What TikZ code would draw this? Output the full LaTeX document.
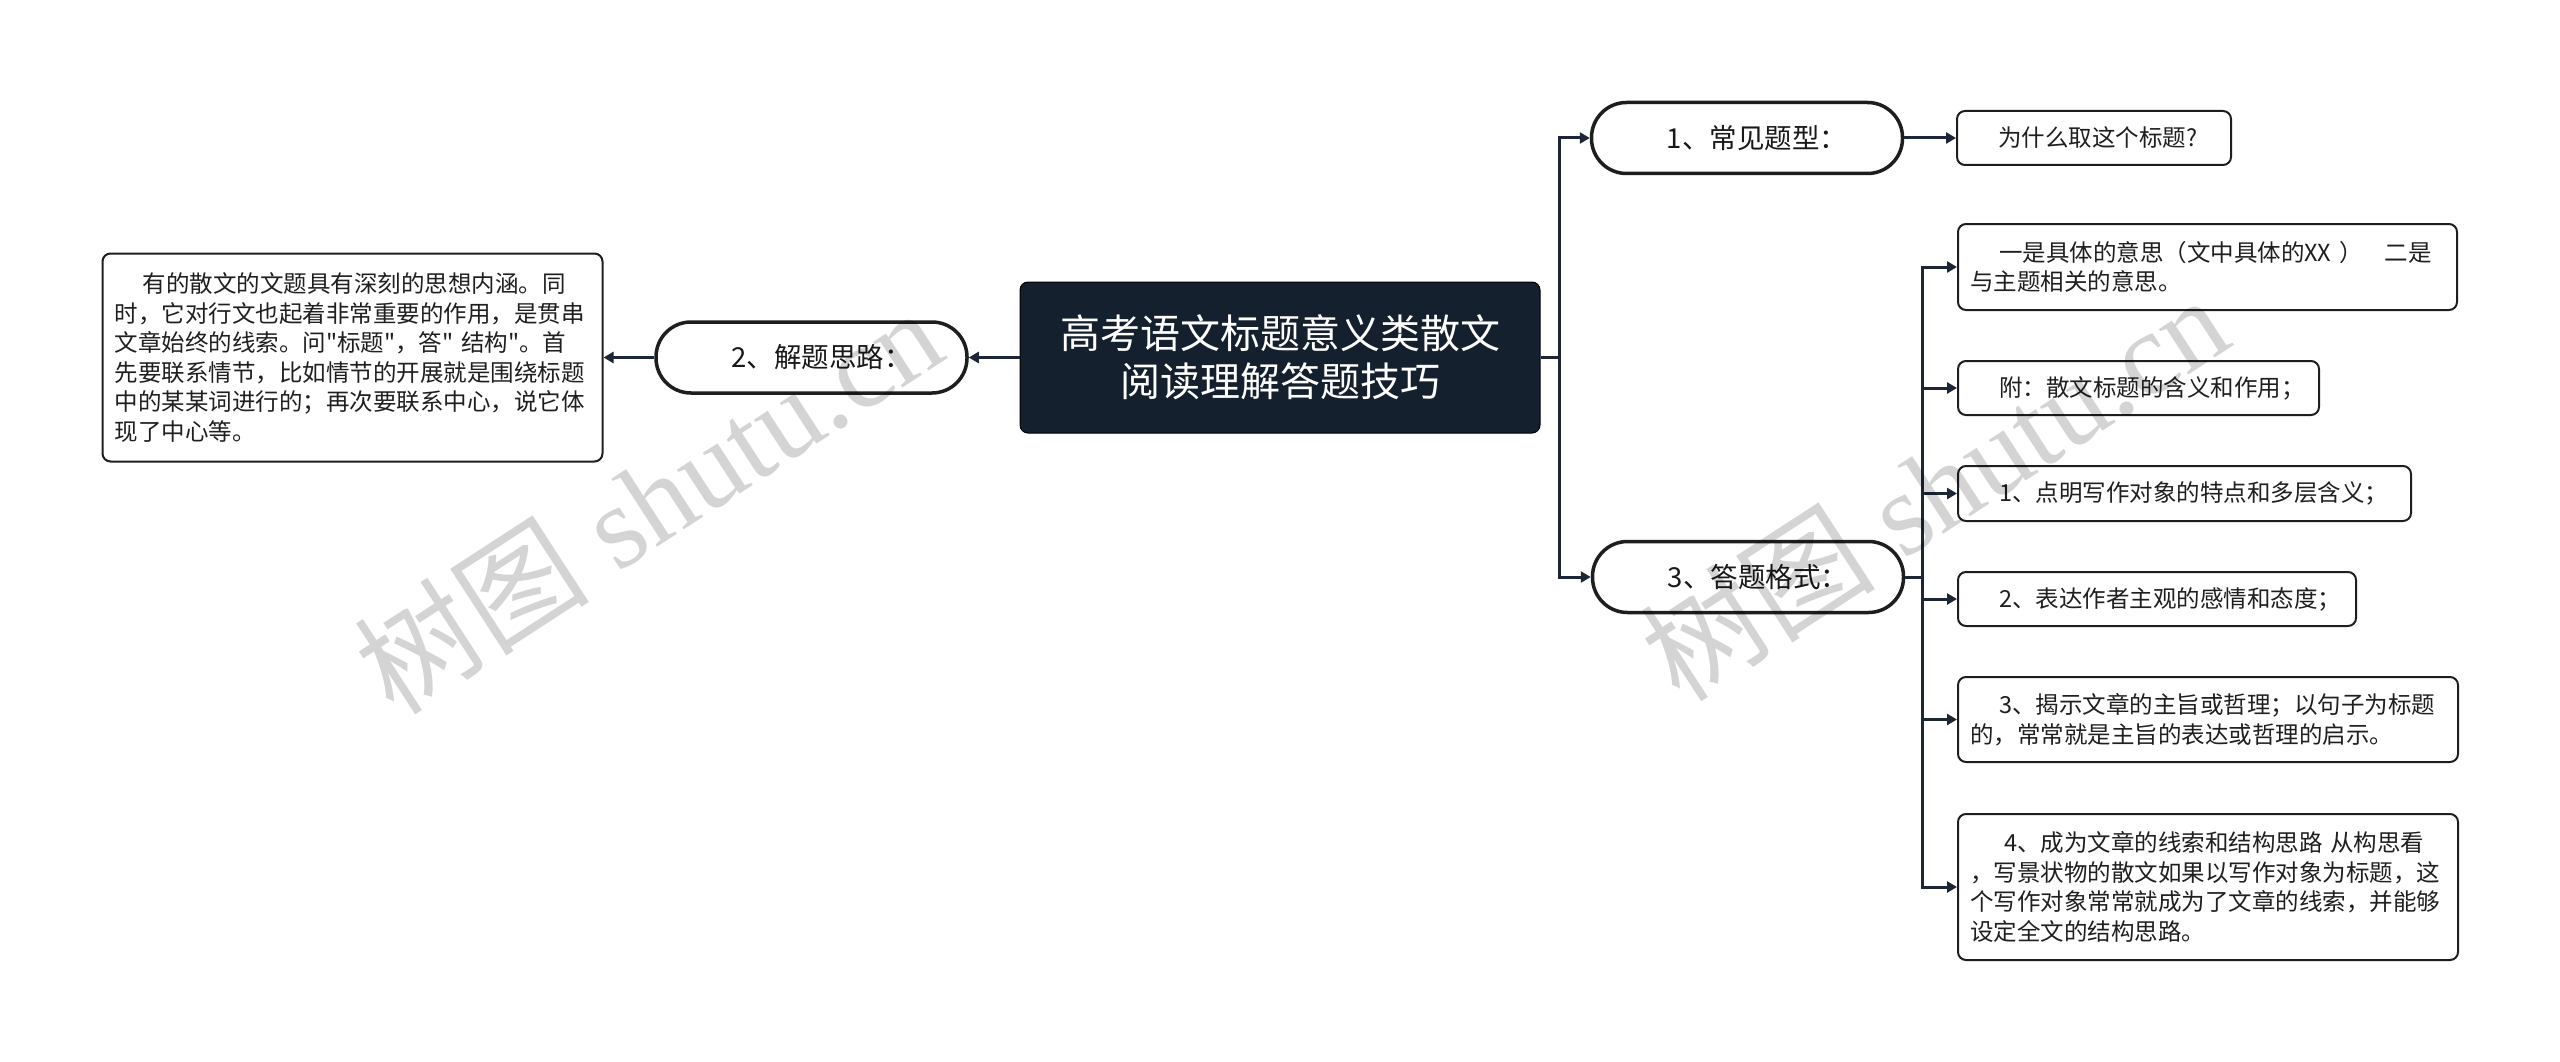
\documentclass[tikz,border=0pt]{standalone}
\usepackage{fontspec}
\setmainfont{Noto Sans CJK SC}[Ligatures=TeXOff]
\newfontfamily\wmserif{Liberation Serif}
\newfontfamily\wmcjk{Noto Sans CJK SC}
\usetikzlibrary{arrows.meta}
\definecolor{darkfill}{HTML}{15202E}
\definecolor{lineclr}{HTML}{1C2636}
\definecolor{brd}{HTML}{1E1E1E}
\begin{document}
\begin{tikzpicture}[x=1pt,y=-1pt,
  central/.style={fill=darkfill, draw=black, line width=1pt, rounded corners=8pt,
    minimum width=520pt, minimum height=151pt, text=white, align=center,
    inner sep=0pt, font=\fontsize{40}{48}\selectfont},
  pill/.style={draw=brd, fill=white, line width=3.5pt, rounded corners=35pt,
    minimum width=311pt, minimum height=71pt, inner sep=0pt,
    font=\fontsize{27.5}{33}\selectfont, text=black!90},
  tbox/.style={draw=brd, fill=white, line width=2pt, rounded corners=8pt,
    align=left, inner xsep=12pt, inner ysep=0pt,
    font=\fontsize{23.5}{29.5}\selectfont, text=black!88},
  conn/.style={draw=lineclr, line width=3pt},
  arr/.style={conn, -{Triangle[length=10pt,width=11pt]}},
  wm/.style={text=black, text opacity=0.17, rotate=33, inner sep=0pt}
]
\fill[white] (0,0) rectangle (2560,1062);
\useasboundingbox (0,0) rectangle (2560,1062);

% central
\node[central] (c) at (1280,357.5) {高考语文标题意义类散文\\阅读理解答题技巧};

% left branch
\node[pill] (p2) at (811.5,357.5) {\hspace*{20pt}2、解题思路：};
\node[tbox, text width=476pt, minimum width=500pt, minimum height=208pt] (lb) at (352.5,357.5)
  {\hspace*{28pt}有的散文的文题具有深刻的思想内涵。同\\
   时，它对行文也起着非常重要的作用，是贯串\\
   文章始终的线索。问"标题"，答"~结构"。首\\
   先要联系情节，比如情节的开展就是围绕标题\\
   中的某某词进行的；再次要联系中心，说它体\\
   现了中心等。};

% right branch
\node[pill] (p1) at (1747,138) {\hspace*{20pt}1、常见题型：};
\node[pill] (p3) at (1748,577) {\hspace*{20pt}3、答题格式：};
\node[tbox, text width=250pt, minimum width=274pt, minimum height=54pt] (q1) at (2094,138)
  {\hspace*{29pt}为什么取这个标题?};

\node[tbox, text width=475pt, minimum width=499pt, minimum height=86pt] (ba) at (2207.5,267)
  {\hspace*{29pt}一是具体的意思（文中具体的XX~）\hspace{22pt}二是\\与主题相关的意思。};
\node[tbox, text width=337pt, minimum width=361pt, minimum height=54pt] (bb) at (2138.5,388)
  {\hspace*{29pt}附：散文标题的含义和作用；};
\node[tbox, text width=429pt, minimum width=453pt, minimum height=55pt] (bc) at (2184.5,493.5)
  {\hspace*{29pt}1、点明写作对象的特点和多层含义；};
\node[tbox, text width=374pt, minimum width=398pt, minimum height=54pt] (bd) at (2157,599)
  {\hspace*{29pt}2、表达作者主观的感情和态度；};
\node[tbox, text width=476pt, minimum width=500pt, minimum height=85pt] (be) at (2208,719.5)
  {\hspace*{29pt}3、揭示文章的主旨或哲理；以句子为标题\\的，常常就是主旨的表达或哲理的启示。};
\node[tbox, text width=476pt, minimum width=500pt, minimum height=146pt] (bf) at (2208,887)
  {\hspace*{34pt}4、成为文章的线索和结构思路~从构思看\\
   ，写景状物的散文如果以写作对象为标题，这\\
   个写作对象常常就成为了文章的线索，并能够\\
   设定全文的结构思路。};

% junctions
\coordinate (j1) at (1559,357.5);
\coordinate (j2) at (1922,577);

% connectors
\draw[arr] (c.west) -- (p2.east);
\draw[arr] (p2.west) -- (lb.east);
\draw[conn] (c.east) -- (j1);
\draw[arr] (j1) |- (p1.west);
\draw[arr] (j1) |- (p3.west);
\draw[arr] (p1.east) -- (q1.west);
\draw[conn] (p3.east) -- (j2);
\draw[arr] (j2) |- (ba.west);
\draw[arr] (j2) |- (bb.west);
\draw[arr] (j2) |- (bc.west);
\draw[arr] (j2) |- (bd.west);
\draw[arr] (j2) |- (be.west);
\draw[arr] (j2) |- (bf.west);

% watermarks
\node[wm] (wm1) at (648,500) {\fontsize{118}{118}\selectfont\wmcjk 树图\wmserif\ shutu.cn};
\node[wm] (wm2) at (1934,487) {\fontsize{118}{118}\selectfont\wmcjk 树图\wmserif\ shutu.cn};
\end{tikzpicture}
\end{document}
